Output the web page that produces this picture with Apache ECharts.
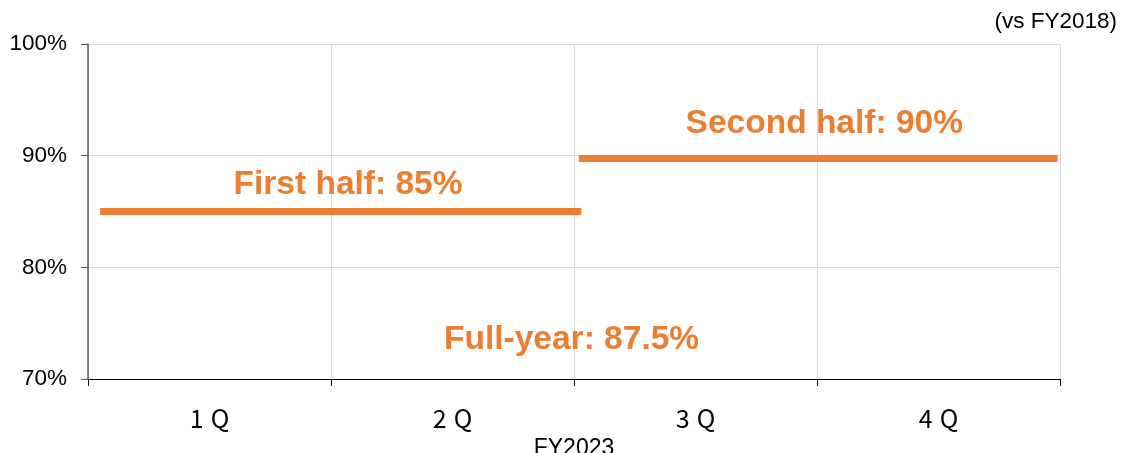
<!DOCTYPE html>
<html>
<head>
<meta charset="utf-8">
<script src="https://cdn.jsdelivr.net/npm/echarts@6/dist/echarts.min.js"></script>
<style>
  html, body { margin: 0; padding: 0; background: #fff; }
  #chart { width: 1122px; height: 453px; }
</style>
</head>
<body>
<div id="chart"></div>
<script>
// quarters on the category axis
var quarters = ["1Q", "2Q", "3Q", "4Q"];
var yTicks = [70, 80, 90, 100];

// half-year target lines: [start, end] on a 0..4 quarter scale, value in %
var firstHalf = [[0.05, 85], [2.03, 85]];
var secondHalf = [[2.02, 89.75], [3.99, 89.75]];

// annotation texts and where they sit (quarter scale, %)
var noteTexts = ["First half: 85%", "Second half: 90%", "Full-year: 87.5%"];
var noteX = [1.07, 3.03, 1.99];
var noteY = [87.35, 92.85, 73.55];

var orange = "#ED7D31";

var notes = [];
for (var i = 0; i < noteTexts.length; i++) {
  notes.push({ name: noteTexts[i], value: [noteX[i], noteY[i]] });
}

var myChart = echarts.init(document.getElementById("chart"));
myChart.setOption({
  animation: false,
  title: {
    text: "(vs FY2018)",
    right: 5,
    top: 10,
    padding: 0,
    textStyle: { fontFamily: "Liberation Sans", fontWeight: "normal", fontSize: 22.5, color: "#000" }
  },
  grid: { left: 88, right: 62, top: 44, bottom: 74, outerBoundsMode: "none", containLabel: false },
  xAxis: [
    {
      type: "category",
      data: quarters,
      name: "FY2023",
      nameLocation: "middle",
      nameGap: 58,
      nameTextStyle: { fontFamily: "Liberation Sans", fontSize: 23, color: "#000" },
      axisLine: { lineStyle: { color: "#000", width: 1 } },
      axisTick: { show: true, length: 7, lineStyle: { color: "#000" } },
      axisLabel: {
        margin: 27,
        color: "#000",
        formatter: function (v) {
          return "{n|" + v.slice(0, 1) + "}{q|" + v.slice(1) + "}";
        },
        rich: {
          n: { fontFamily: "Noto Sans CJK JP", fontSize: 25, color: "#000", padding: [0, 7, 0, 0] },
          q: { fontFamily: "Noto Sans CJK JP", fontSize: 25, color: "#000" }
        }
      },
      splitLine: { show: true, lineStyle: { color: "#d9d9d9" } }
    },
    {
      type: "value",
      min: 0,
      max: 4,
      show: false
    }
  ],
  yAxis: {
    type: "value",
    min: yTicks[0],
    max: yTicks[yTicks.length - 1],
    interval: 10,
    axisLine: { show: true, lineStyle: { color: "#595959", width: 1.5 } },
    axisTick: { show: true, length: 7, lineStyle: { color: "#595959" } },
    axisLabel: {
      formatter: "{value}%",
      margin: 21,
      fontFamily: "Liberation Sans",
      fontSize: 22.5,
      color: "#000"
    },
    splitLine: { show: true, lineStyle: { color: "#d9d9d9" } }
  },
  series: [
    {
      name: "First half",
      type: "line",
      xAxisIndex: 1,
      data: firstHalf,
      symbol: "none",
      lineStyle: { color: orange, width: 7, cap: "butt" }
    },
    {
      name: "Second half",
      type: "line",
      xAxisIndex: 1,
      data: secondHalf,
      symbol: "none",
      lineStyle: { color: orange, width: 7, cap: "butt" }
    },
    {
      name: "notes",
      type: "scatter",
      xAxisIndex: 1,
      data: notes,
      symbolSize: 0,
      itemStyle: { opacity: 1 },
      label: {
        show: true,
        position: "inside",
        formatter: "{b}",
        fontFamily: "Liberation Sans",
        fontWeight: "bold",
        fontSize: 33.5,
        color: orange,
        opacity: 1
      }
    }
  ]
});
</script>
</body>
</html>
